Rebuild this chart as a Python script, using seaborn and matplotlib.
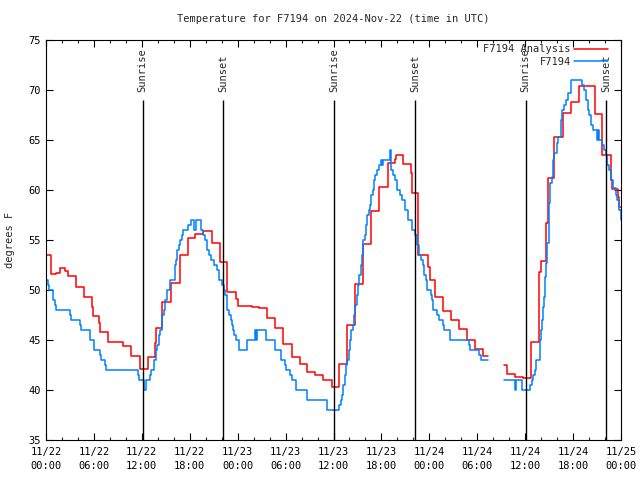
import matplotlib
matplotlib.use("Agg")
import matplotlib.pyplot as plt
import seaborn as sns
import pandas as pd
from matplotlib.ticker import MultipleLocator

# ---------------- data (hours since 2024-11-22 00:00 UTC, degrees F) ----------------
title = "Temperature for F7194 on 2024-Nov-22 (time in UTC)"
series_names = ["F7194 Analysis", "F7194"]
series_colors = ["#ff0000", "#0080ff"]

# Analysis series, first segment (step values start at each time)
red_hours_a = [0.13, 0.66, 1.25, 1.75, 2.42, 2.75, 3.72, 3.79, 4.72, 5.80, 5.85, 6.67, 6.80, 7.73,
               9.68, 10.68, 11.73, 12.73, 12.81, 13.65, 13.74, 14.53, 15.69, 16.74, 17.74, 18.70,
               19.70, 20.75, 21.75, 22.70, 23.75, 24.00, 25.76, 26.67, 27.64, 28.68, 29.71, 30.77,
               31.81, 32.72, 33.68, 34.72, 35.77, 36.73, 37.65, 38.69, 39.73, 40.70, 41.74, 42.79,
               43.70, 43.79, 44.74, 45.71, 45.84, 46.62, 47.80, 48.08, 48.75, 49.75, 50.75, 51.72,
               52.68, 53.68, 54.72, 55.31]
red_temp_a = [53.5, 51.6, 51.7, 52.2, 51.9, 51.4, 50.8, 50.3, 49.3, 48.3, 47.4, 46.7, 45.8, 44.8,
              44.4, 43.4, 42.1, 42.6, 43.3, 44.7, 46.2, 48.8, 50.7, 53.5, 55.2, 55.6,
              55.9, 54.7, 52.8, 49.8, 49.1, 48.4, 48.3, 48.2, 47.2, 46.2, 44.6, 43.3,
              42.6, 41.8, 41.5, 41.0, 40.3, 42.6, 46.5, 50.6, 54.6, 57.9, 60.3, 62.7,
              63.1, 63.5, 62.6, 61.7, 59.7, 53.5, 52.3, 51.0, 49.3, 47.9, 47.0, 46.1,
              45.0, 44.1, 43.4, 43.4]
# Analysis series, second segment
red_hours_b = [57.39, 57.73, 58.77, 59.77, 60.69, 61.77, 61.99, 62.65, 62.90, 63.65, 64.70, 65.70,
               66.74, 68.75, 69.66, 70.71, 70.83, 71.67, 71.79, 72.0]
red_temp_b = [42.5, 41.6, 41.3, 41.2, 44.8, 51.8, 52.9, 56.7, 61.2, 65.3, 67.7, 68.8,
              70.4, 67.6, 63.5, 61.0, 60.1, 59.3, 58.3, 58.3]

# Station series, first segment
blue_hours_a = [0.09, 0.25, 0.41, 0.91, 1.13, 1.29, 3.04, 3.17, 4.30, 4.42, 5.51, 6.05, 6.76, 6.92,
                7.35, 7.48, 11.56, 11.68, 12.27, 12.48, 12.99, 13.11, 13.52, 13.77, 13.94, 14.19,
                14.27, 14.53, 14.78, 14.94, 15.11, 15.53, 16.11, 16.28, 16.36, 16.61, 16.78, 17.03,
                17.11, 17.78, 18.20, 18.53, 18.78, 19.37, 19.62, 19.95, 20.12, 20.37, 20.70, 21.04,
                21.37, 21.70, 22.04, 22.29, 22.45, 22.70, 22.88, 23.13, 23.25, 23.38, 23.50, 23.75,
                24.21, 25.13, 26.17, 26.30, 26.42, 27.55, 28.68, 29.42, 29.93, 30.09, 30.59, 30.80,
                31.34, 32.72, 35.22, 36.73, 36.90, 37.06, 37.23, 37.40, 37.57, 37.73, 37.90, 38.07,
                38.24, 38.40, 38.57, 38.74, 38.90, 39.07, 39.24, 39.40, 39.57, 39.73, 39.90, 40.07,
                40.23, 40.40, 40.57, 40.74, 40.91, 41.07, 41.24, 41.41, 41.66, 41.91, 42.07, 42.24,
                43.08, 43.24, 43.49, 43.74, 43.99, 44.33, 44.58, 44.99, 45.33, 45.83, 46.24, 46.49,
                46.66, 46.92, 47.17, 47.33, 47.58, 47.75, 48.21, 48.33, 48.50, 49.00, 49.17, 49.75,
                49.88, 50.63, 52.93, 53.09, 54.26, 54.43, 55.31]
blue_temp_a = [51.0, 50.5, 50.0, 49.0, 48.5, 48.0, 47.5, 47.0, 46.5, 46.0, 45.0, 44.0, 43.5, 43.0,
               42.5, 42.0, 41.5, 41.0, 40.0, 41.0, 41.5, 42.0, 43.0, 44.0, 44.5, 45.5,
               46.0, 47.5, 48.0, 49.0, 50.0, 51.0, 52.5, 53.0, 54.0, 54.5, 55.0, 55.5,
               56.0, 56.5, 57.0, 56.0, 57.0, 56.0, 55.5, 55.0, 54.0, 53.5, 53.0, 52.5,
               52.0, 51.0, 50.5, 50.0, 49.5, 48.0, 47.5, 47.0, 46.5, 46.0, 45.5, 45.0,
               44.0, 45.0, 46.0, 45.0, 46.0, 45.0, 44.0, 43.0, 42.5, 42.0, 41.5, 41.0,
               40.0, 39.0, 38.0, 38.5, 39.0, 39.5, 40.5, 41.5, 42.5, 43.0, 44.0, 45.0,
               46.0, 46.5, 47.5, 48.5, 49.5, 50.5, 51.5, 52.5, 53.5, 55.0, 55.5, 56.5,
               57.5, 58.0, 58.5, 59.5, 60.0, 61.0, 61.5, 62.0, 62.5, 63.0, 62.5, 63.0,
               64.0, 62.0, 61.5, 61.0, 60.0, 59.5, 59.0, 58.0, 57.0, 56.0, 55.5, 54.5,
               53.5, 53.0, 52.5, 51.5, 51.0, 50.0, 49.5, 49.0, 48.0, 47.5, 47.0, 46.5,
               46.0, 45.0, 44.5, 44.0, 43.5, 43.0, 43.0]
# Station series, second segment
blue_hours_b = [57.35, 58.73, 58.80, 59.56, 60.61, 60.82, 61.02, 61.19, 61.32, 61.86, 62.02, 62.15,
                62.28, 62.40, 62.53, 62.65, 62.78, 62.95, 63.02, 63.11, 63.32, 63.45, 63.61, 63.95,
                64.15, 64.45, 64.61, 64.86, 65.11, 65.40, 65.70, 67.16, 67.37, 67.62, 67.87, 68.03,
                68.21, 68.46, 68.96, 69.08, 69.20, 69.58, 69.87, 70.12, 70.29, 70.54, 70.79, 70.96,
                71.38, 71.54, 71.70, 71.95, 72.0]
blue_temp_b = [41.0, 40.0, 41.0, 40.0, 40.5, 41.0, 41.5, 42.0, 43.0, 45.0, 46.0, 47.0,
               48.3, 49.3, 51.3, 52.7, 54.7, 56.7, 58.7, 60.7, 61.3, 63.0, 63.7, 64.7,
               65.3, 67.0, 68.0, 68.5, 69.0, 69.7, 71.0, 70.5, 70.0, 69.0, 68.0, 67.5,
               66.5, 66.0, 65.0, 66.0, 65.0, 64.5, 64.0, 63.5, 62.5, 62.0, 61.0, 60.2,
               59.5, 59.0, 58.0, 57.0, 57.0]

sun_hours = [12.1, 22.2, 36.1, 46.25, 60.05, 70.15]
sun_labels = ["Sunrise", "Sunset", "Sunrise", "Sunset", "Sunrise", "Sunset"]

x_ticks = [0, 6, 12, 18, 24, 30, 36, 42, 48, 54, 60, 66, 72]
x_tick_labels = ["11/22\n00:00", "11/22\n06:00", "11/22\n12:00", "11/22\n18:00",
                 "11/23\n00:00", "11/23\n06:00", "11/23\n12:00", "11/23\n18:00",
                 "11/24\n00:00", "11/24\n06:00", "11/24\n12:00", "11/24\n18:00",
                 "11/25\n00:00"]
y_ticks = [35, 40, 45, 50, 55, 60, 65, 70, 75]

# ---------------- build table ----------------
frames = []
for name, seg, h, t in [(series_names[0], "a", red_hours_a, red_temp_a),
                        (series_names[0], "b", red_hours_b, red_temp_b),
                        (series_names[1], "a", blue_hours_a, blue_temp_a),
                        (series_names[1], "b", blue_hours_b, blue_temp_b)]:
    frames.append(pd.DataFrame({"hours": h, "temp": t, "series": name,
                                "segment": f"{name}-{seg}"}))
df = pd.concat(frames, ignore_index=True)

# ---------------- style ----------------
sns.set_style("ticks")
plt.rcParams["font.family"] = ["DejaVu Sans Mono"]
FS = 7.5

fig = plt.figure(figsize=(6.4, 4.8), dpi=100)
ax = fig.add_axes([46 / 640, 40 / 480, 575 / 640, 400 / 480])

sns.lineplot(data=df, x="hours", y="temp", hue="series", units="segment", estimator=None,
             hue_order=series_names, palette=dict(zip(series_names, series_colors)),
             drawstyle="steps-post", linewidth=1.1, ax=ax, sort=True)

ax.vlines(sun_hours, 35, 69, colors="black", linewidth=1.0)
for h, lab in zip(sun_hours, sun_labels):
    ax.text(h, 69.75, lab, rotation=90, ha="center", va="bottom", fontsize=FS)

ax.set_xlim(0, 72)
ax.set_ylim(35, 75)
ax.set_xticks(x_ticks)
ax.set_xticklabels(x_tick_labels, fontsize=FS, linespacing=1.5)
ax.xaxis.set_minor_locator(MultipleLocator(2))
ax.set_yticks(y_ticks)
ax.set_yticklabels([str(v) for v in y_ticks], fontsize=FS)
ax.tick_params(which="major", direction="in", top=True, right=True, length=5, width=0.8,
               colors="black", pad=5)
ax.tick_params(which="minor", direction="in", top=True, right=False, left=False, length=2.5,
               width=0.8)
ax.tick_params(axis="y", pad=4)
for s in ax.spines.values():
    s.set_visible(True)
    s.set_linewidth(0.8)
    s.set_color("black")
ax.set_xlabel("")
ax.set_ylabel("")

sns.move_legend(ax, "upper right", bbox_to_anchor=(1 - 7 / 575, 1 + 2 / 400), frameon=False,
                markerfirst=False, title=None, fontsize=FS, handlelength=3.2,
                labelspacing=0.22, borderaxespad=0.2, handletextpad=0.35)

fig.text(333.5 / 640, 1 - 19.5 / 480, title, ha="center", va="center", fontsize=FS)
fig.text(10 / 640, 0.5, "degrees F", rotation=90, ha="center", va="center", fontsize=FS)

fig.savefig("out.png", dpi=100)
